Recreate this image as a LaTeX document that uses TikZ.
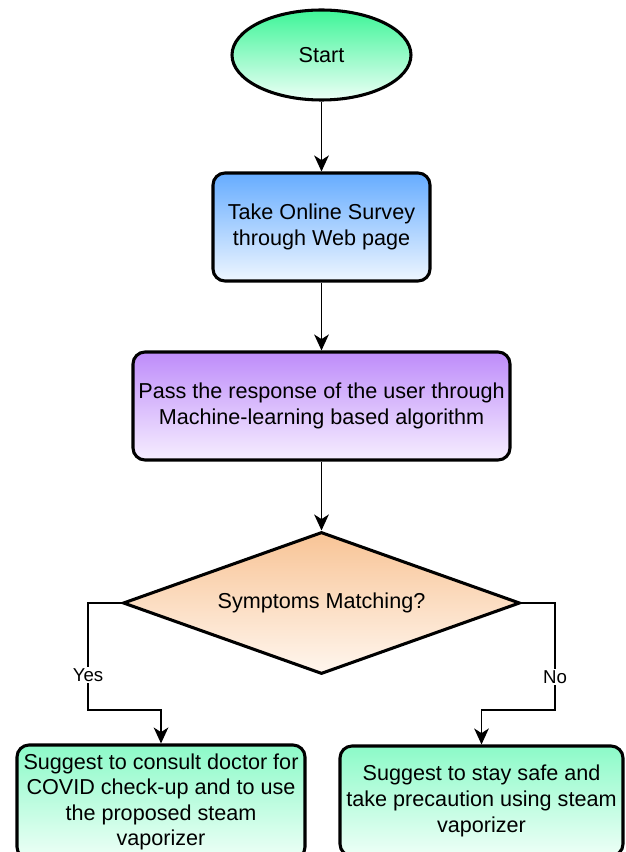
\documentclass[tikz,border=0pt]{standalone}
\usepackage{fontspec}
\setmainfont{Liberation Sans}
\usetikzlibrary{shapes.geometric,arrows.meta}
\definecolor{gA}{RGB}{62,245,152}
\definecolor{gB}{RGB}{236,255,246}
\definecolor{bA}{RGB}{102,172,255}
\definecolor{bB}{RGB}{238,246,255}
\definecolor{pA}{RGB}{190,140,250}
\definecolor{pB}{RGB}{246,238,255}
\definecolor{oA}{RGB}{248,196,150}
\definecolor{oB}{RGB}{255,246,238}
\definecolor{mA}{RGB}{140,250,200}
\definecolor{mB}{RGB}{238,255,247}
\tikzset{
  base/.style={draw=black, line width=2.3pt, inner sep=0pt, align=center,
    font=\fontsize{16.2}{19.2}\selectfont},
  boxstyle/.style={base, rectangle, rounded corners=9pt},
  conn/.style={line width=1.2pt, -{Stealth[length=12pt,width=11pt,inset=3.5pt]}},
  lbl/.style={fill=white, inner sep=1pt, font=\fontsize{14}{16.5}\selectfont}
}
\begin{document}
\begin{tikzpicture}[x=0.75pt,y=-0.75pt]
\useasboundingbox (0,0) rectangle (625,852);
\clip (0,0) rectangle (625,852);
\fill[white] (0,0) rectangle (625,852);
\node[base, ellipse, minimum width=134.25pt, minimum height=67.5pt,
  top color=gA, bottom color=gB] (start) at (321.5,55) {Start};
\node[boxstyle, minimum width=162.75pt, minimum height=81pt,
  top color=bA, bottom color=bB] (survey) at (321.5,227)
  {Take Online Survey\\through Web page};
\node[boxstyle, minimum width=282.75pt, minimum height=81pt,
  top color=pA, bottom color=pB] (ml) at (321.5,406)
  {Pass the response of the user through\\Machine-learning based algorithm};
\node[base, diamond, minimum width=297.75pt, minimum height=106.5pt, shape aspect=2.8,
  top color=oA, bottom color=oB] (dec) at (321.5,603) {Symptoms Matching?};
\node[boxstyle, minimum width=216pt, minimum height=85.5pt,
  top color=mA, bottom color=mB] (yesbox) at (161,802)
  {Suggest to consult doctor for\\COVID check-up and to use\\the proposed steam\\vaporizer};
\node[boxstyle, minimum width=212.25pt, minimum height=82.5pt,
  top color=mA, bottom color=mB] (nobox) at (481.5,801)
  {Suggest to stay safe and\\take precaution using steam\\vaporizer};
\coordinate (y1) at (88,603);
\coordinate (y2) at (88,710);
\coordinate (n1) at (555,603);
\coordinate (n2) at (555,710);
\draw[conn] (start) -- (survey);
\draw[conn] (survey) -- (ml);
\draw[conn] (ml) -- (dec);
\draw[conn] (dec.west) -- (y1) -- (y2) -| (yesbox.north);
\draw[conn] (dec.east) -- (n1) -- (n2) -| (nobox.north);
\node[lbl] (yeslbl) at (88,675) {Yes};
\node[lbl] (nolbl) at (555,677) {No};
\end{tikzpicture}
\end{document}
